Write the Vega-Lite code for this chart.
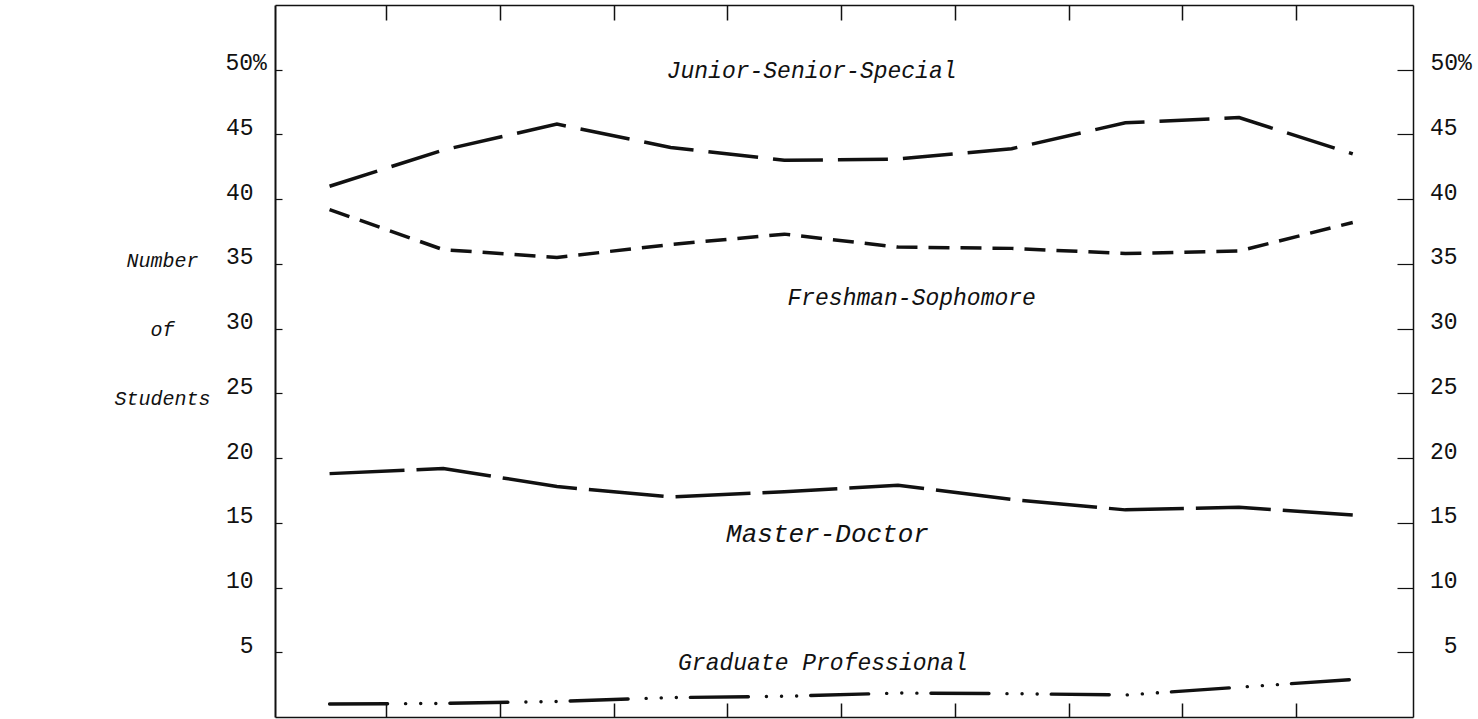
{
  "$schema": "https://vega.github.io/schema/vega-lite/v6.json",
  "width": 1138,
  "height": 712,
  "autosize": "none",
  "padding": {"left": 275, "top": 5, "right": 65, "bottom": 2},
  "background": "white",
  "config": {
    "view": {"stroke": null},
    "axis": {
      "domainColor": "#111111",
      "tickColor": "#111111",
      "labelColor": "#111111",
      "titleColor": "#111111",
      "grid": false,
      "labelFont": "Liberation Mono",
      "labelFontSize": 23,
      "titleFont": "Liberation Mono",
      "titleFontStyle": "italic",
      "titleFontWeight": "normal",
      "titleFontSize": 20
    }
  },
  "datasets": {
    "series": [
      {"group": "Junior-Senior-Special", "period": 1, "pct": 41.0},
      {"group": "Junior-Senior-Special", "period": 2, "pct": 43.8},
      {"group": "Junior-Senior-Special", "period": 3, "pct": 45.8},
      {"group": "Junior-Senior-Special", "period": 4, "pct": 44.0},
      {"group": "Junior-Senior-Special", "period": 5, "pct": 43.0},
      {"group": "Junior-Senior-Special", "period": 6, "pct": 43.1},
      {"group": "Junior-Senior-Special", "period": 7, "pct": 43.9},
      {"group": "Junior-Senior-Special", "period": 8, "pct": 45.9},
      {"group": "Junior-Senior-Special", "period": 9, "pct": 46.3},
      {"group": "Junior-Senior-Special", "period": 10, "pct": 43.5},
      {"group": "Freshman-Sophomore", "period": 1, "pct": 39.2},
      {"group": "Freshman-Sophomore", "period": 2, "pct": 36.1},
      {"group": "Freshman-Sophomore", "period": 3, "pct": 35.5},
      {"group": "Freshman-Sophomore", "period": 4, "pct": 36.5},
      {"group": "Freshman-Sophomore", "period": 5, "pct": 37.3},
      {"group": "Freshman-Sophomore", "period": 6, "pct": 36.3},
      {"group": "Freshman-Sophomore", "period": 7, "pct": 36.2},
      {"group": "Freshman-Sophomore", "period": 8, "pct": 35.8},
      {"group": "Freshman-Sophomore", "period": 9, "pct": 36.0},
      {"group": "Freshman-Sophomore", "period": 10, "pct": 38.2},
      {"group": "Master-Doctor", "period": 1, "pct": 18.8},
      {"group": "Master-Doctor", "period": 2, "pct": 19.2},
      {"group": "Master-Doctor", "period": 3, "pct": 17.8},
      {"group": "Master-Doctor", "period": 4, "pct": 17.0},
      {"group": "Master-Doctor", "period": 5, "pct": 17.4},
      {"group": "Master-Doctor", "period": 6, "pct": 17.9},
      {"group": "Master-Doctor", "period": 7, "pct": 16.8},
      {"group": "Master-Doctor", "period": 8, "pct": 16.0},
      {"group": "Master-Doctor", "period": 9, "pct": 16.2},
      {"group": "Master-Doctor", "period": 10, "pct": 15.6},
      {"group": "Graduate Professional", "period": 1, "pct": 1.0},
      {"group": "Graduate Professional", "period": 2, "pct": 1.05},
      {"group": "Graduate Professional", "period": 3, "pct": 1.2},
      {"group": "Graduate Professional", "period": 4, "pct": 1.5},
      {"group": "Graduate Professional", "period": 5, "pct": 1.6},
      {"group": "Graduate Professional", "period": 6, "pct": 1.85},
      {"group": "Graduate Professional", "period": 7, "pct": 1.8},
      {"group": "Graduate Professional", "period": 8, "pct": 1.7},
      {"group": "Graduate Professional", "period": 9, "pct": 2.3},
      {"group": "Graduate Professional", "period": 10, "pct": 2.9}
    ],
    "labels": [
      {"label": "Junior-Senior-Special", "period": 5.24, "pct": 49.9},
      {"label": "Freshman-Sophomore", "period": 6.12, "pct": 32.4},
      {"label": "Graduate Professional", "period": 5.34, "pct": 4.15}
    ],
    "labels2": [
      {"label": "Master-Doctor", "period": 5.38, "pct": 14.1}
    ]
  },
  "layer": [
    {
      "data": {"name": "series"},
      "transform": [{"filter": "datum.group === 'Junior-Senior-Special'"}],
      "mark": {"type": "line", "color": "#111111", "strokeWidth": 3.5, "strokeDash": [50, 15], "strokeCap": "butt"},
      "encoding": {
        "x": {
          "field": "period", "type": "quantitative",
          "scale": {"domain": [0.52, 10.53], "nice": false, "zero": false},
          "axis": {
            "orient": "bottom", "values": [1.5, 2.5, 3.5, 4.5, 5.5, 6.5, 7.5, 8.5, 9.5],
            "labels": false, "title": null, "tickSize": -14, "tickWidth": 1.5, "domainWidth": 1.5
          }
        },
        "y": {
          "field": "pct", "type": "quantitative",
          "scale": {"domain": [0, 55], "nice": false, "zero": true},
          "axis": {
            "orient": "left",
            "values": [5, 10, 15, 20, 25, 30, 35, 40, 45, 50],
            "labelExpr": "datum.value === 50 ? '50%' : datum.label",
            "tickSize": -7, "tickWidth": 1.2, "domainWidth": 2,
            "labelAlign": {"condition": {"test": "datum.value === 50", "value": "left"}, "value": "right"},
            "labelPadding": {"condition": {"test": "datum.value === 50", "value": 57}, "value": 29},
            "labelBaseline": "alphabetic",
            "title": ["Number", "of", "Students"],
            "titleAngle": 0,
            "titleAlign": "center",
            "titleBaseline": "middle",
            "titleLineHeight": 69,
            "titleX": -113,
            "titleY": 255
          }
        }
      }
    },
    {
      "data": {"name": "series"},
      "transform": [{"filter": "datum.group === 'Freshman-Sophomore'"}],
      "mark": {"type": "line", "color": "#111111", "strokeWidth": 3.5, "strokeDash": [21, 11], "strokeCap": "butt"},
      "encoding": {
        "x": {
          "field": "period", "type": "quantitative",
          "axis": {
            "orient": "top", "values": [1.5, 2.5, 3.5, 4.5, 5.5, 6.5, 7.5, 8.5, 9.5],
            "labels": false, "title": null, "tickSize": -15, "tickWidth": 1.5, "domainWidth": 1.5
          }
        },
        "y": {
          "field": "pct", "type": "quantitative",
          "axis": {
            "orient": "right",
            "values": [5, 10, 15, 20, 25, 30, 35, 40, 45, 50],
            "labelExpr": "datum.value === 50 ? '50%' : datum.label",
            "tickSize": -16, "tickWidth": 1.2, "domainWidth": 1.5,
            "labelAlign": {"condition": {"test": "datum.value === 50", "value": "left"}, "value": "right"},
            "labelPadding": {"condition": {"test": "datum.value === 50", "value": 33}, "value": 60},
            "labelBaseline": "alphabetic",
            "title": null
          }
        }
      }
    },
    {
      "data": {"name": "series"},
      "transform": [{"filter": "datum.group === 'Master-Doctor'"}],
      "mark": {"type": "line", "color": "#111111", "strokeWidth": 3.5, "strokeDash": [75, 12], "strokeCap": "butt"},
      "encoding": {
        "x": {"field": "period", "type": "quantitative", "axis": null},
        "y": {"field": "pct", "type": "quantitative", "axis": null}
      }
    },
    {
      "data": {"name": "series"},
      "transform": [{"filter": "datum.group === 'Graduate Professional'"}],
      "mark": {"type": "line", "color": "#111111", "strokeWidth": 3.4, "strokeDash": [58, 18, 0.1, 15, 0.1, 15, 0.1, 14], "strokeCap": "round"},
      "encoding": {
        "x": {"field": "period", "type": "quantitative", "axis": null},
        "y": {"field": "pct", "type": "quantitative", "axis": null}
      }
    },
    {
      "data": {"name": "labels"},
      "mark": {"type": "text", "font": "Liberation Mono", "fontStyle": "italic", "fontSize": 23, "align": "center", "baseline": "middle", "color": "#111111"},
      "encoding": {
        "x": {"field": "period", "type": "quantitative", "axis": null},
        "y": {"field": "pct", "type": "quantitative", "axis": null},
        "text": {"field": "label"}
      }
    },
    {
      "data": {"name": "labels2"},
      "mark": {"type": "text", "font": "Liberation Mono", "fontStyle": "italic", "fontSize": 26, "align": "center", "baseline": "middle", "color": "#111111"},
      "encoding": {
        "x": {"field": "period", "type": "quantitative", "axis": null},
        "y": {"field": "pct", "type": "quantitative", "axis": null},
        "text": {"field": "label"}
      }
    }
  ],
  "resolve": {"axis": {"x": "independent", "y": "independent"}}
}
